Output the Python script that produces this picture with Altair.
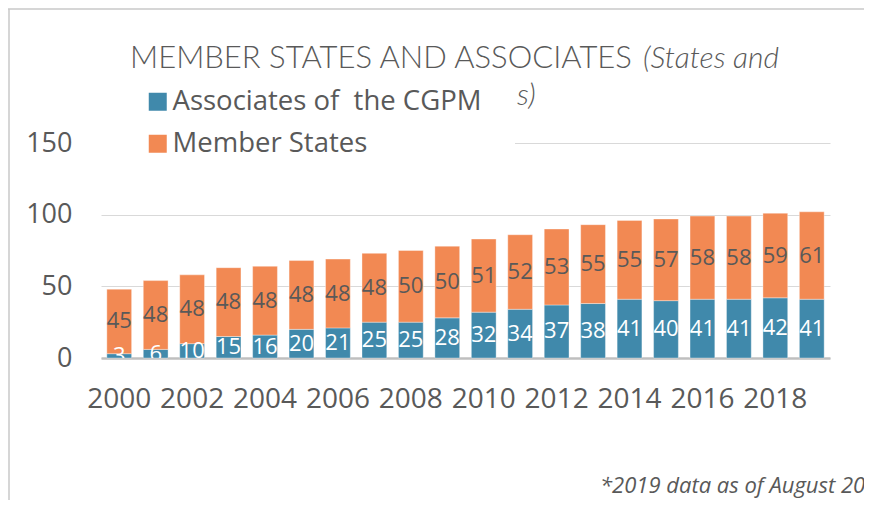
import altair as alt
import pandas as pd

# ---- data ----
years = [str(y) for y in range(2000, 2020)]
associates = [3, 6, 10, 15, 16, 20, 21, 25, 25, 28, 32, 34, 37, 38, 41, 40, 41, 41, 42, 41]
members = [45, 48, 48, 48, 48, 48, 48, 48, 50, 50, 51, 52, 53, 55, 55, 57, 58, 58, 59, 61]
series_names = ["Associates of\u00a0 the CGPM", "Member States"]
colors = ["#4089ab", "#f28953"]
year_ticks = [str(y) for y in range(2000, 2019, 2)]
y_ticks = [0, 50, 100, 150]
title_main = "MEMBER STATES AND ASSOCIATES"
title_ital = "(States and"
title_tail = "s)"
footnote = "*2019 data as of August 20"

rows = []
for i, yr in enumerate(years):
    a, m = associates[i], members[i]
    rows.append(dict(year=yr, series=series_names[0], value=a, y0=0, y1=a, mid=a / 2))
    rows.append(dict(year=yr, series=series_names[1], value=m, y0=a, y1=a + m, mid=a + m / 2))
df = pd.DataFrame(rows)

FONT = "Open Sans"
TXT = "#595959"

xenc = alt.X(
    "year:N", title=None, sort=years,
    scale=alt.Scale(paddingInner=0.32, paddingOuter=0.16),
    axis=alt.Axis(values=year_ticks, labelAngle=0, labelFont=FONT, labelFontSize=28,
                  labelColor=TXT, labelPadding=27, ticks=False, domainColor="#bfbfbf",
                  domainWidth=2.5, grid=False, labelOverlap=False),
)
yscale = alt.Scale(domain=[0, 150], nice=False)

bars = alt.Chart(df).mark_bar(stroke="white", strokeWidth=0.6, strokeOpacity=0.6).encode(
    x=xenc,
    y=alt.Y("y1:Q", scale=yscale, title=None,
            axis=alt.Axis(values=y_ticks, grid=True, gridColor="#d9d9d9", gridWidth=1,
                          domain=False, ticks=False, labelPadding=29, labelFont=FONT,
                          labelFontSize=27, labelColor=TXT)),
    y2="y0:Q",
    color=alt.Color("series:N", scale=alt.Scale(domain=series_names, range=colors),
                    legend=alt.Legend(title=None, orient="none", legendX=43, legendY=-55,
                                      symbolType="square", symbolSize=324, symbolStrokeWidth=0,
                                      labelFont=FONT, labelFontSize=27.5, labelColor=TXT,
                                      labelLimit=600, rowPadding=13, labelOffset=1, padding=0)),
)

lab_a = alt.Chart(df).transform_filter(alt.datum.series == series_names[0]).mark_text(
    font=FONT, fontSize=22, baseline="middle", color="white", clip=True
).encode(x=alt.X("year:N", sort=years), y=alt.Y("mid:Q", scale=yscale), text="value:Q")

lab_m = alt.Chart(df).transform_filter(alt.datum.series == series_names[1]).mark_text(
    font=FONT, fontSize=22, baseline="middle", color=TXT, clip=True
).encode(x=alt.X("year:N", sort=years), y=alt.Y("mid:Q", scale=yscale), text="value:Q")

one = pd.DataFrame({"t": [title_main], "i": [title_ital], "s": [title_tail], "f": [footnote]})

t1 = alt.Chart(one).mark_text(align="left", baseline="alphabetic", font="Lato", fontWeight=300,
                              fontSize=31, color=TXT).encode(
    x=alt.value(29), y=alt.value(-75), text="t:N")
t2 = alt.Chart(one).mark_text(align="left", baseline="alphabetic", font="Lato", fontWeight=300,
                              fontStyle="italic", fontSize=30, color=TXT).encode(
    x=alt.value(542), y=alt.value(-75), text="i:N")
t3 = alt.Chart(one).mark_text(align="left", baseline="alphabetic", font="Lato", fontWeight=300,
                              fontStyle="italic", fontSize=30, color=TXT).encode(
    x=alt.value(416), y=alt.value(-38), text="s:N")
foot = alt.Chart(one).mark_text(align="left", baseline="alphabetic", font=FONT,
                                fontStyle="italic", fontSize=22, color=TXT).encode(
    x=alt.value(499), y=alt.value(350), text="f:N")

cover = alt.Chart(one).mark_rule(color="white", strokeWidth=3).encode(
    x=alt.value(0), x2=alt.value(414), y=alt.value(0))
frame_top = alt.Chart(one).mark_rule(color="#c8c8c8", strokeWidth=1.5).encode(
    x=alt.value(-93), x2=alt.value(763), y=alt.value(-134))
frame_left = alt.Chart(one).mark_rule(color="#c8c8c8", strokeWidth=1.5).encode(
    x=alt.value(-92), y=alt.value(-134), y2=alt.value(357))

chart = alt.layer(bars, cover, lab_a, lab_m, t1, t2, t3, foot, frame_top, frame_left).properties(
    width=729, height=215,
    autosize=alt.AutoSizeParams(type="none"),
    padding={"left": 93, "top": 135, "right": 34, "bottom": 142},
).configure_view(stroke=None)

chart.save("out.html", embed_options={"renderer": "svg", "actions": False})
